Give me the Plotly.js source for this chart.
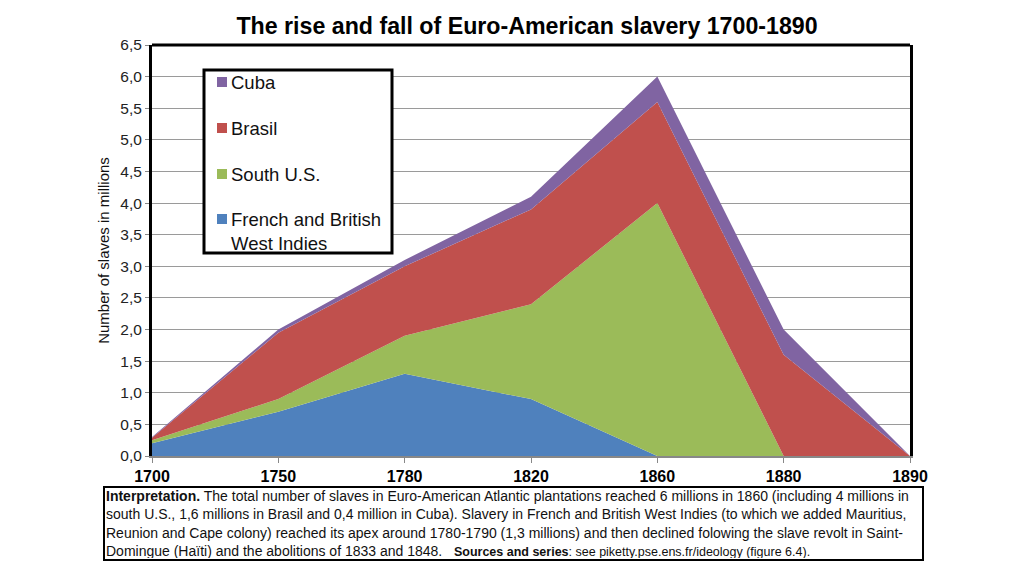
<!DOCTYPE html>
<html>
<head>
<meta charset="utf-8">
<script src="https://cdn.plot.ly/plotly-3.0.1.min.js"></script>
<style>html,body{margin:0;padding:0;background:#fff;}#chart{width:1024px;height:576px;}</style>
</head>
<body>
<div id="chart"></div>
<script>
const years = ['1700', '1750', '1780', '1820', '1860', '1880', '1890'];
const westIndies = [0.2, 0.7, 1.3, 0.9, 0, 0, 0];
const southUS = [0.05, 0.2, 0.6, 1.5, 4.0, 0, 0];
const brasil = [0.04, 1.05, 1.1, 1.5, 1.6, 1.6, 0];
const cuba = [0.01, 0.05, 0.1, 0.2, 0.4, 0.4, 0];
const seriesNames = ['French and British<br>West Indies', 'South U.S.', 'Brasil', 'Cuba'];
const seriesColors = ['#4F81BD', '#9BBB59', '#C0504D', '#8064A2'];
const seriesValues = [westIndies, southUS, brasil, cuba];

const W = 1024, H = 576;
const L = 152, R = 910, T = 45, B = 456;
const px = x => (x - L) / (R - L);
const py = y => (B - y) / (B - T);
const FONT = 'Liberation Sans, Arial, sans-serif';

const traces = seriesValues.map((vals, i) => ({
  type: 'scatter', x: years, y: vals, name: seriesNames[i],
  stackgroup: 'one', mode: 'none', fillcolor: seriesColors[i],
  line: {width: 0}, hoverinfo: 'x+y+name'
}));

const shapes = [
  {type: 'line', xref: 'paper', yref: 'paper', x0: 0, x1: 1, y0: 1, y1: 1, line: {color: '#000', width: 3}},
  {type: 'rect', xref: 'paper', yref: 'paper', x0: px(204), x1: px(392), y0: py(253), y1: py(70),
   line: {color: '#000', width: 3}, fillcolor: '#fff'}
];
const annotations = [];
const legendOrder = [3, 2, 1, 0];
const legendY = [82, 128, 174, 219];
legendOrder.forEach((si, k) => {
  const cy = legendY[k];
  shapes.push({type: 'rect', xref: 'paper', yref: 'paper', x0: px(217), x1: px(227), y0: py(cy + 5), y1: py(cy - 5),
    line: {width: 0}, fillcolor: seriesColors[si]});
  annotations.push({xref: 'paper', yref: 'paper', x: px(229), y: py(cy - 12), xanchor: 'left', yanchor: 'top',
    text: seriesNames[si], showarrow: false, align: 'left',
    font: {family: FONT, size: 18.5, color: '#111'}});
});

const interp = '<b>Interpretation.</b> The total number of slaves in Euro-American Atlantic plantations reached 6 millions in 1860 (including 4 millions in<br>' +
  'south U.S., 1,6 millions in Brasil and 0,4 million in Cuba). Slavery in French and British West Indies (to which we added Mauritius,<br>' +
  'Reunion and Cape colony) reached its apex around 1780-1790 (1,3 millions) and then declined folowing the slave revolt in Saint-<br>' +
  'Domingue (Haïti) and the abolitions of 1833 and 1848.   <span style="font-size:12.5px"><b>Sources and series</b>: see piketty.pse.ens.fr/ideology (figure 6.4).</span>';
annotations.push({xref: 'paper', yref: 'paper', x: px(513.5), y: py(523.5), xanchor: 'center', yanchor: 'middle',
  text: interp, showarrow: false, align: 'left', width: 815, height: 69, borderpad: 1,
  bordercolor: '#000', borderwidth: 2, bgcolor: '#fff',
  font: {family: FONT, size: 14, color: '#111'}});

const layout = {
  width: W, height: H,
  margin: {l: L, r: W - R, t: T, b: H - B},
  paper_bgcolor: '#fff', plot_bgcolor: '#fff',
  separators: ', ',
  showlegend: false,
  title: {text: '<b>The rise and fall of Euro-American slavery 1700-1890</b>',
    x: 527 / W, xanchor: 'center', y: 1 - 26 / H, yanchor: 'middle',
    font: {family: FONT, size: 23.2, color: '#000'}},
  xaxis: {type: 'category', range: [0, 6], showgrid: false, zeroline: false,
    showline: true, linecolor: '#888', linewidth: 1.5,
    ticks: 'outside', ticklen: 5, tickcolor: '#888',
    tickfont: {family: FONT, size: 16, color: '#000', weight: 'bold'},
    fixedrange: true},
  yaxis: {range: [0, 6.5], dtick: 0.5, tickformat: '.1f', showgrid: true, gridcolor: '#9a9a9a', gridwidth: 1,
    zeroline: false, showline: true, mirror: true, linecolor: '#000', linewidth: 3,
    ticks: 'outside', ticklen: 4, tickcolor: '#888',
    tickfont: {family: FONT, size: 15.5, color: '#222'},
    title: {text: 'Number of slaves in millions', standoff: 8,
      font: {family: FONT, size: 15, color: '#111'}},
    fixedrange: true},
  shapes: shapes,
  annotations: annotations
};

Plotly.newPlot('chart', traces, layout, {displayModeBar: false, staticPlot: true});
</script>
</body>
</html>
